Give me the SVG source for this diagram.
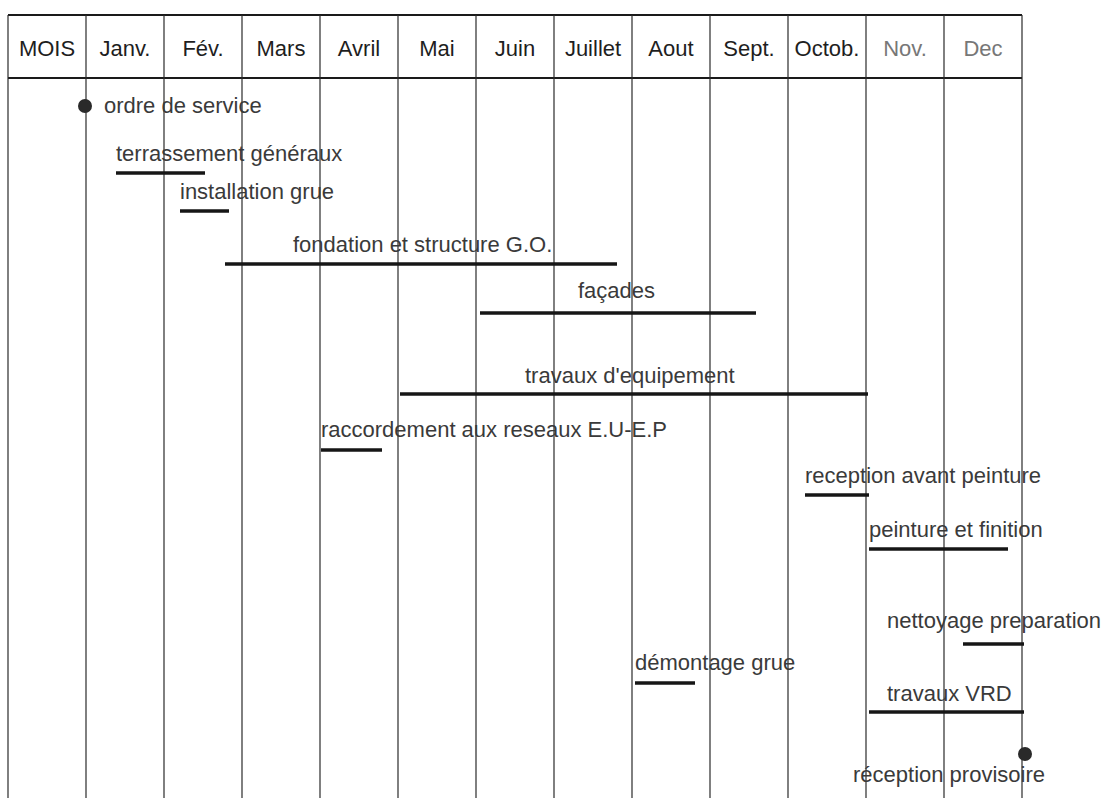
<svg xmlns="http://www.w3.org/2000/svg" width="1112" height="798" viewBox="0 0 1112 798">
<style>
.bg{fill:#ffffff}
.grid{stroke:#2a2a2a;stroke-width:1.2;fill:none}
.hline{stroke:#1a1a1a;stroke-width:2;fill:none}
.hd{font-family:"Liberation Sans",Arial,sans-serif;font-size:22px;fill:#1e1e1e;text-anchor:middle}
.hd.light{fill:#777}
.lbl{font-family:"Liberation Sans",Arial,sans-serif;font-size:22px;fill:#3a3a3a}
.bar{stroke:#161616;stroke-width:3.5;stroke-linecap:butt;fill:none}
.dot{fill:#2a2a2a}
</style>
<rect class="bg" x="0" y="0" width="1112" height="798"/>
<g id="grid">
<line class="hline" x1="8" y1="15" x2="1022" y2="15"/>
<line class="hline" x1="8" y1="78" x2="1022" y2="78"/>
<line class="grid" x1="8" y1="15" x2="8" y2="798"/>
<line class="grid" x1="86" y1="15" x2="86" y2="798"/>
<line class="grid" x1="164" y1="15" x2="164" y2="798"/>
<line class="grid" x1="242" y1="15" x2="242" y2="798"/>
<line class="grid" x1="320" y1="15" x2="320" y2="798"/>
<line class="grid" x1="398" y1="15" x2="398" y2="798"/>
<line class="grid" x1="476" y1="15" x2="476" y2="798"/>
<line class="grid" x1="554" y1="15" x2="554" y2="798"/>
<line class="grid" x1="632" y1="15" x2="632" y2="798"/>
<line class="grid" x1="710" y1="15" x2="710" y2="798"/>
<line class="grid" x1="788" y1="15" x2="788" y2="798"/>
<line class="grid" x1="866" y1="15" x2="866" y2="798"/>
<line class="grid" x1="944" y1="15" x2="944" y2="798"/>
<line class="grid" x1="1022" y1="15" x2="1022" y2="798"/>
</g>
<g id="header">
<text class="hd" x="47" y="56">MOIS</text>
<text class="hd" x="125" y="56">Janv.</text>
<text class="hd" x="203" y="56">Fév.</text>
<text class="hd" x="281" y="56">Mars</text>
<text class="hd" x="359" y="56">Avril</text>
<text class="hd" x="437" y="56">Mai</text>
<text class="hd" x="515" y="56">Juin</text>
<text class="hd" x="593" y="56">Juillet</text>
<text class="hd" x="671" y="56">Aout</text>
<text class="hd" x="749" y="56">Sept.</text>
<text class="hd" x="827" y="56">Octob.</text>
<text class="hd light" x="905" y="56">Nov.</text>
<text class="hd light" x="983" y="56">Dec</text>
</g>
<g id="ordre-de-service">
<circle class="dot" cx="85" cy="106" r="7"/>
<text class="lbl" x="104" y="113">ordre de service</text>
</g>
<g id="terrassement">
<text class="lbl" x="116" y="161">terrassement généraux</text>
<line class="bar" x1="116" y1="173" x2="205" y2="173"/>
</g>
<g id="installation-grue">
<text class="lbl" x="180" y="199">installation grue</text>
<line class="bar" x1="180" y1="211" x2="229" y2="211"/>
</g>
<g id="fondation">
<text class="lbl" x="293" y="252">fondation et structure G.O.</text>
<line class="bar" x1="225" y1="264" x2="617" y2="264"/>
</g>
<g id="facades">
<text class="lbl" x="578" y="298">façades</text>
<line class="bar" x1="480" y1="313" x2="756" y2="313"/>
</g>
<g id="travaux-equipement">
<text class="lbl" x="525" y="383">travaux d'equipement</text>
<line class="bar" x1="400" y1="394" x2="868" y2="394"/>
</g>
<g id="raccordement">
<text class="lbl" x="321" y="437">raccordement aux reseaux E.U-E.P</text>
<line class="bar" x1="321" y1="450" x2="382" y2="450"/>
</g>
<g id="reception-avant-peinture">
<text class="lbl" x="805" y="483">reception avant peinture</text>
<line class="bar" x1="805" y1="495" x2="869" y2="495"/>
</g>
<g id="peinture-finition">
<text class="lbl" x="869" y="537">peinture et finition</text>
<line class="bar" x1="869" y1="549" x2="1008" y2="549"/>
</g>
<g id="nettoyage">
<text class="lbl" x="887" y="628">nettoyage preparation</text>
<line class="bar" x1="963" y1="644" x2="1024" y2="644"/>
</g>
<g id="demontage-grue">
<text class="lbl" x="635" y="670">démontage grue</text>
<line class="bar" x1="635" y1="683" x2="695" y2="683"/>
</g>
<g id="travaux-vrd">
<text class="lbl" x="887" y="701">travaux VRD</text>
<line class="bar" x1="869" y1="712" x2="1024" y2="712"/>
</g>
<g id="reception-provisoire">
<circle class="dot" cx="1025" cy="754" r="7"/>
<text class="lbl" x="853" y="782">réception provisoire</text>
</g>
</svg>
